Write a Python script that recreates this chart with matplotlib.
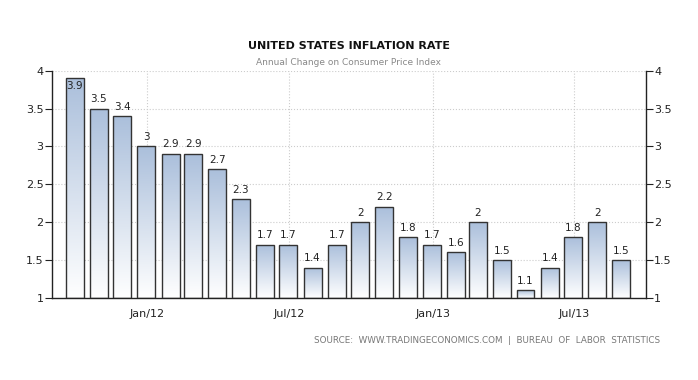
import matplotlib.pyplot as plt
import matplotlib.dates as mdates
import numpy as np
import pandas as pd

# US CPI annual change, month-end values
months = pd.date_range("2011-09-30", "2013-08-31", freq="ME")
values = [3.9, 3.5, 3.4, 3.0, 2.9, 2.9, 2.7, 2.3, 1.7, 1.7, 1.4, 1.7,
          2.0, 2.2, 1.8, 1.7, 1.6, 2.0, 1.5, 1.1, 1.4, 1.8, 2.0, 1.5]
labels = ["3.9", "3.5", "3.4", "3", "2.9", "2.9", "2.7", "2.3", "1.7", "1.7", "1.4", "1.7",
          "2", "2.2", "1.8", "1.7", "1.6", "2", "1.5", "1.1", "1.4", "1.8", "2", "1.5"]
xticks = pd.to_datetime(["2012-01-01", "2012-07-01", "2013-01-01", "2013-07-01"])
xtick_labels = ["Jan/12", "Jul/12", "Jan/13", "Jul/13"]
yticks = [1, 1.5, 2, 2.5, 3, 3.5, 4]
ytick_labels = ["1", "1.5", "2", "2.5", "3", "3.5", "4"]

fig = plt.figure(figsize=(6.98, 3.80), dpi=100)
ax = fig.add_axes([0.0745, 0.216, 0.8505, 0.598])

bars = ax.bar(months, [v - 1 for v in values], bottom=1, width=23,
              facecolor="none", edgecolor="#333333", linewidth=1.0, zorder=3)

# vertical gradient fill for each bar: steel blue at top fading to white
grad = np.linspace(0, 1, 256).reshape(-1, 1)
top_c = np.array([0.67, 0.75, 0.86])
bot_c = np.array([1.0, 1.0, 1.0])
img = (bot_c + (top_c - bot_c) * grad[..., None]).reshape(256, 1, 3)
for b in bars:
    x0 = b.get_x()
    w = b.get_width()
    y1 = b.get_y() + b.get_height()
    im = ax.imshow(img, extent=[x0, x0 + w, 1, y1], origin="lower",
                   aspect="auto", zorder=2)
    im.set_clip_path(b)

xs = mdates.date2num(months)
for x, v, lab in zip(xs, values, labels):
    if v > 3.8:
        ax.text(x, v - 0.04, lab, ha="center", va="top", fontsize=7.5,
                color="#222222", zorder=4)
    else:
        ax.text(x, v + 0.06, lab, ha="center", va="bottom", fontsize=7.5,
                color="#222222", zorder=4)

ax.set_xlim(pd.Timestamp("2011-09-01"), pd.Timestamp("2013-10-01"))
ax.set_ylim(1, 4)
ax.set_xticks(xticks)
ax.set_xticklabels(xtick_labels)
ax.set_yticks(yticks)
ax.set_yticklabels(ytick_labels)

ax.grid(True, color="#cccccc", linestyle=":", linewidth=0.8, zorder=0)
ax.set_axisbelow(True)
for s in ["top"]:
    ax.spines[s].set_visible(False)
for s in ["left", "right", "bottom"]:
    ax.spines[s].set_color("#222222")
    ax.spines[s].set_linewidth(1.0)

ax.tick_params(axis="y", which="both", left=True, right=True, labelleft=True,
               labelright=True, length=5, direction="out", labelsize=8,
               colors="#222222", pad=1)
ax.tick_params(axis="x", length=3, direction="in", labelsize=8,
               colors="#222222", pad=8)

fig.text(0.5, 0.878, "UNITED STATES INFLATION RATE", ha="center", va="center",
         fontsize=8, fontweight="bold", color="#111111")
fig.text(0.5, 0.836, "Annual Change on Consumer Price Index", ha="center",
         va="center", fontsize=6.5, color="#888888")
fig.text(0.946, 0.105, "SOURCE:  WWW.TRADINGECONOMICS.COM  |  BUREAU  OF  LABOR  STATISTICS",
         ha="right", va="center", fontsize=6.3, color="#777777")

fig.savefig("out.png", dpi=100)
